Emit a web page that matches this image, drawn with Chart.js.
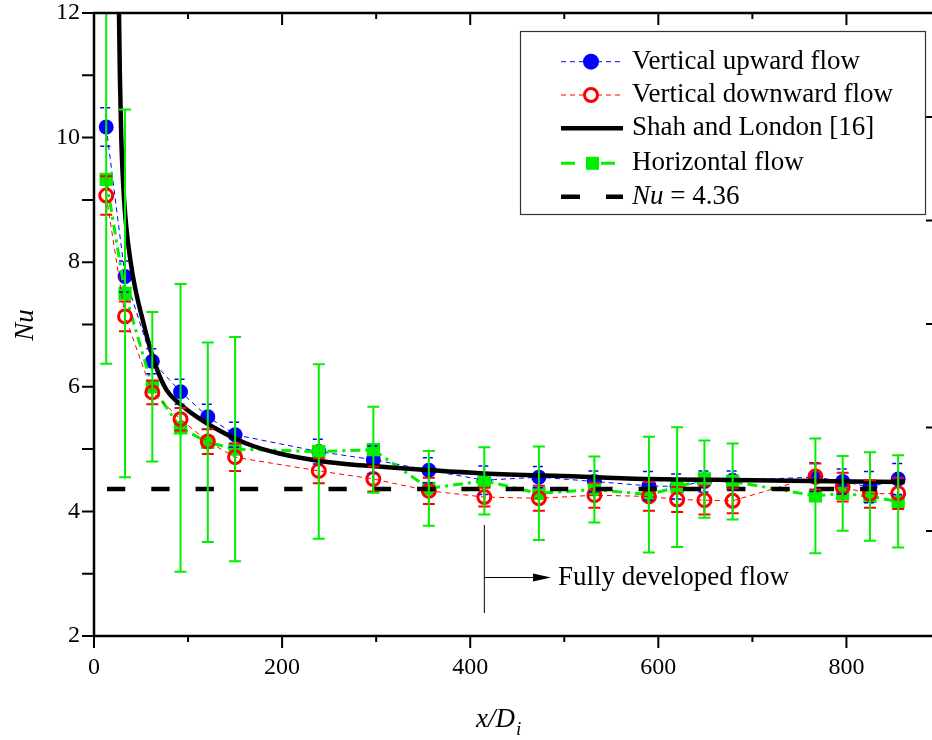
<!DOCTYPE html>
<html>
<head>
<meta charset="utf-8">
<script src="https://cdn.jsdelivr.net/npm/chart.js@4.4.1/dist/chart.umd.min.js"></script>
<style>
  html, body { margin: 0; padding: 0; background: #fff; overflow: hidden; }
  #wrap { position: relative; width: 950px; height: 740px; }
</style>
</head>
<body>
<div id="wrap"><canvas id="nuChart" width="950" height="740"></canvas></div>
<script>
// x/Di positions of the measurements
const xPos = [13, 33, 62, 92, 121, 150, 239, 297, 356, 415, 473, 532, 590, 620, 649, 679, 767, 796, 825, 855];

// Nusselt numbers
const nuUp    = [10.17, 7.77, 6.41, 5.92, 5.52, 5.23, 4.96, 4.83, 4.66, 4.50, 4.55, 4.48, 4.41, 4.40, 4.48, 4.50, 4.55, 4.48, 4.39, 4.52];
const nuDown  = [9.07, 7.13, 5.91, 5.48, 5.12, 4.87, 4.65, 4.52, 4.33, 4.23, 4.21, 4.26, 4.24, 4.19, 4.18, 4.17, 4.56, 4.39, 4.28, 4.29];
const nuHoriz = [9.33, 7.50, 6.00, 5.34, 5.11, 5.00, 4.96, 4.99, 4.37, 4.49, 4.29, 4.35, 4.27, 4.39, 4.52, 4.48, 4.25, 4.29, 4.24, 4.16];

// half widths of the error bars
const errUp    = [0.31, 0.25, 0.20, 0.20, 0.20, 0.20, 0.20, 0.22, 0.20, 0.23, 0.17, 0.17, 0.23, 0.20, 0.17, 0.15, 0.23, 0.20, 0.25, 0.25];
const errDown  = [0.31, 0.24, 0.19, 0.18, 0.20, 0.22, 0.20, 0.20, 0.21, 0.15, 0.20, 0.20, 0.23, 0.20, 0.23, 0.20, 0.21, 0.23, 0.22, 0.25];
const errHoriz = [2.96, 2.95, 1.20, 2.31, 1.60, 1.80, 1.40, 0.69, 0.60, 0.54, 0.75, 0.53, 0.93, 0.96, 0.62, 0.61, 0.92, 0.60, 0.71, 0.74];

// Shah and London [16] correlation
const shahX  = [26.5, 27.5, 29, 32, 39, 53, 66, 77, 91, 109, 126, 162, 197, 250, 303, 415, 515, 567, 700, 862];
const shahNu = [12.1, 11.0, 10.0, 9.0, 8.0, 7.0, 6.32, 5.95, 5.73, 5.52, 5.36, 5.09, 4.93, 4.79, 4.72, 4.61, 4.56, 4.53, 4.50, 4.47];

// fully developed value
const nuFdX = [13.8, 832];
const nuFd  = [4.36, 4.36];

const xTicks = [0, 200, 400, 600, 800];
const yTicks = [2, 4, 6, 8, 10, 12];

const BLUE = '#0000ff', RED = '#ff0000', GREEN = '#00f000';
const SERIF = '"Liberation Serif", "Times New Roman", serif';

function pts(xs, ys) { return xs.map((x, i) => ({ x: x, y: ys[i] })); }

// error bars drawn through the chart scales
const errorBars = {
  id: 'errorBars',
  afterDatasetsDraw(chart) {
    const { ctx, chartArea: a, scales: { x, y } } = chart;
    const sets = [
      { v: nuUp, e: errUp, c: BLUE, w: 1.5, dash: [4, 2] },
      { v: nuDown, e: errDown, c: RED, w: 2, dash: [] },
      { v: nuHoriz, e: errHoriz, c: GREEN, w: 2, dash: [] }
    ];
    ctx.save();
    ctx.beginPath();
    ctx.rect(a.left, a.top, a.right - a.left, a.bottom - a.top);
    ctx.clip();
    sets.forEach(s => {
      ctx.strokeStyle = s.c;
      ctx.lineWidth = s.w;
      ctx.setLineDash(s.dash);
      xPos.forEach((xv, i) => {
        const px = x.getPixelForValue(xv);
        const top = y.getPixelForValue(s.v[i] + s.e[i]);
        const bot = y.getPixelForValue(s.v[i] - s.e[i]);
        ctx.beginPath();
        ctx.moveTo(px, top); ctx.lineTo(px, bot);
        ctx.moveTo(px - 6, top); ctx.lineTo(px + 6, top);
        ctx.moveTo(px - 6, bot); ctx.lineTo(px + 6, bot);
        ctx.stroke();
      });
    });
    ctx.restore();
  }
};

// frame, tick marks, titles, legend and annotation
const decorations = {
  id: 'decorations',
  afterDraw(chart) {
    const { ctx, chartArea: a, scales: { x, y } } = chart;
    ctx.save();
    ctx.strokeStyle = '#000';
    ctx.lineWidth = 2.5;
    ctx.beginPath();
    ctx.moveTo(a.left, a.top); ctx.lineTo(a.left, a.bottom);
    ctx.moveTo(a.left - 1, a.bottom); ctx.lineTo(a.right, a.bottom);
    ctx.moveTo(a.left - 1, a.top); ctx.lineTo(a.right, a.top);
    ctx.stroke();

    ctx.lineWidth = 2;
    ctx.beginPath();
    for (let v = 0; v <= 900; v += 100) {
      const px = x.getPixelForValue(v);
      const len = v % 200 === 0 ? 12 : 6;
      ctx.moveTo(px, a.bottom); ctx.lineTo(px, a.bottom + len);
      ctx.moveTo(px, a.top); ctx.lineTo(px, a.top + len);
    }
    for (let v = 2; v <= 12; v += 1) {
      const py = y.getPixelForValue(v);
      ctx.moveTo(a.left - 12, py); ctx.lineTo(a.left, py);
    }
    // inward ticks of the right-hand axis, which is cut off by the frame edge
    [117, 220.5, 324, 427.5, 531].forEach(py => {
      ctx.moveTo(926, py); ctx.lineTo(a.right, py);
    });
    ctx.stroke();

    // axis titles
    ctx.fillStyle = '#000';
    ctx.textBaseline = 'middle';
    ctx.save();
    ctx.translate(26, 325);
    ctx.rotate(-Math.PI / 2);
    ctx.textAlign = 'center';
    ctx.font = 'italic 27px ' + SERIF;
    ctx.fillText('Nu', 0, 0);
    ctx.restore();

    ctx.textAlign = 'left';
    ctx.textBaseline = 'alphabetic';
    ctx.font = 'italic 27px ' + SERIF;
    ctx.fillText('x/D', 476, 727);
    const w = ctx.measureText('x/D').width;
    ctx.font = 'italic 19px ' + SERIF;
    ctx.fillText('i', 476 + w + 1, 735);

    // annotation
    const ax = x.getPixelForValue(415);
    ctx.strokeStyle = '#000';
    ctx.lineWidth = 1;
    ctx.setLineDash([]);
    ctx.beginPath();
    ctx.moveTo(ax, 525); ctx.lineTo(ax, 613);
    ctx.moveTo(ax, 577.5); ctx.lineTo(536, 577.5);
    ctx.stroke();
    ctx.beginPath();
    ctx.moveTo(533, 573.5); ctx.lineTo(551, 577.5); ctx.lineTo(533, 581.5);
    ctx.closePath();
    ctx.fill();
    ctx.font = '27px ' + SERIF;
    ctx.textBaseline = 'middle';
    ctx.fillText('Fully developed flow', 558, 578);

    // legend
    ctx.strokeStyle = '#333';
    ctx.lineWidth = 1.2;
    ctx.strokeRect(520.5, 31.5, 405, 183);
    const rows = [61.7, 95, 128.3, 163.3, 196.7];
    const lx0 = 561, lx1 = 623, mx = 591, tx = 632;

    ctx.lineWidth = 1;
    ctx.strokeStyle = BLUE;
    ctx.setLineDash([5, 4]);
    ctx.beginPath(); ctx.moveTo(lx0, rows[0]); ctx.lineTo(lx1, rows[0]); ctx.stroke();
    ctx.setLineDash([]);
    ctx.fillStyle = BLUE;
    ctx.beginPath(); ctx.arc(mx, rows[0], 8, 0, Math.PI * 2); ctx.fill();

    ctx.strokeStyle = RED;
    ctx.setLineDash([5, 4]);
    ctx.beginPath(); ctx.moveTo(lx0, rows[1]); ctx.lineTo(lx1, rows[1]); ctx.stroke();
    ctx.setLineDash([]);
    ctx.lineWidth = 3;
    ctx.fillStyle = '#fff';
    ctx.beginPath(); ctx.arc(mx, rows[1], 6.5, 0, Math.PI * 2); ctx.fill(); ctx.stroke();

    ctx.strokeStyle = '#000';
    ctx.lineWidth = 4.5;
    ctx.beginPath(); ctx.moveTo(lx0, rows[2]); ctx.lineTo(lx1, rows[2]); ctx.stroke();

    ctx.strokeStyle = GREEN;
    ctx.lineWidth = 3;
    ctx.beginPath();
    ctx.moveTo(lx0, rows[3]); ctx.lineTo(575, rows[3]);
    ctx.moveTo(601, rows[3]); ctx.lineTo(615, rows[3]);
    ctx.stroke();
    ctx.fillStyle = GREEN;
    ctx.fillRect(586, rows[3] - 6.5, 13, 13);

    ctx.strokeStyle = '#000';
    ctx.lineWidth = 4.5;
    ctx.beginPath();
    ctx.moveTo(lx0, rows[4]); ctx.lineTo(580, rows[4]);
    ctx.moveTo(606, rows[4]); ctx.lineTo(lx1, rows[4]);
    ctx.stroke();

    ctx.fillStyle = '#000';
    ctx.textAlign = 'left';
    ctx.textBaseline = 'middle';
    ctx.font = '27px ' + SERIF;
    ctx.fillText('Vertical upward flow', tx, rows[0]);
    ctx.fillText('Vertical downward flow', tx, rows[1]);
    ctx.fillText('Shah and London [16]', tx, rows[2]);
    ctx.fillText('Horizontal flow', tx, rows[3]);
    ctx.font = 'italic 27px ' + SERIF;
    ctx.fillText('Nu', tx, rows[4]);
    const nw = ctx.measureText('Nu').width;
    ctx.font = '27px ' + SERIF;
    ctx.fillText(' = 4.36', tx + nw, rows[4]);
    ctx.restore();
  }
};

new Chart(document.getElementById('nuChart'), {
  type: 'scatter',
  data: {
    datasets: [
      {
        label: 'Nu = 4.36',
        data: pts(nuFdX, nuFd),
        showLine: true,
        borderColor: '#000',
        borderWidth: 4.5,
        borderDash: [18.3, 26],
        pointRadius: 0,
        order: 0
      },
      {
        label: 'Shah and London [16]',
        data: pts(shahX, shahNu),
        showLine: true,
        borderColor: '#000',
        borderWidth: 4.5,
        cubicInterpolationMode: 'monotone',
        pointRadius: 0,
        order: 1
      },
      {
        label: 'Vertical downward flow',
        data: pts(xPos, nuDown),
        showLine: true,
        borderColor: RED,
        borderWidth: 1,
        borderDash: [5, 4],
        pointRadius: 6.5,
        pointBorderWidth: 3,
        pointBorderColor: RED,
        pointBackgroundColor: 'rgba(255,255,255,0)',
        order: 2
      },
      {
        label: 'Horizontal flow',
        data: pts(xPos, nuHoriz),
        showLine: true,
        borderColor: GREEN,
        borderWidth: 3,
        borderDash: [10, 5, 3, 5],
        pointStyle: 'rect',
        pointRadius: 9.4,
        pointBorderWidth: 0,
        pointBackgroundColor: GREEN,
        order: 3
      },
      {
        label: 'Vertical upward flow',
        data: pts(xPos, nuUp),
        showLine: true,
        borderColor: BLUE,
        borderWidth: 1,
        borderDash: [5, 4],
        pointRadius: 7.5,
        pointBorderWidth: 0,
        pointBackgroundColor: BLUE,
        order: 4
      }
    ]
  },
  options: {
    responsive: false,
    animation: false,
    devicePixelRatio: 1,
    layout: { padding: { left: 0, top: 13, right: 6, bottom: 0 } },
    plugins: { legend: { display: false }, tooltip: { enabled: false } },
    scales: {
      x: {
        type: 'linear',
        min: 0,
        max: 900,
        afterFit(scale) {
          scale.height = 104;
          scale.paddingLeft = 0;
          scale.paddingRight = 0;
        },
        afterBuildTicks(scale) { scale.ticks = xTicks.map(v => ({ value: v })); },
        grid: { display: false, drawTicks: false },
        border: { display: false },
        ticks: {
          color: '#000',
          padding: 17,
          font: { family: SERIF, size: 24 },
          maxRotation: 0
        }
      },
      y: {
        type: 'linear',
        min: 2,
        max: 12,
        afterFit(scale) {
          scale.width = 94;
          scale.paddingTop = 0;
          scale.paddingBottom = 0;
        },
        afterBuildTicks(scale) { scale.ticks = yTicks.map(v => ({ value: v })); },
        grid: { display: false, drawTicks: false },
        border: { display: false },
        ticks: {
          color: '#000',
          padding: 14,
          font: { family: SERIF, size: 24 }
        }
      }
    }
  },
  plugins: [errorBars, decorations]
});
</script>
</body>
</html>
